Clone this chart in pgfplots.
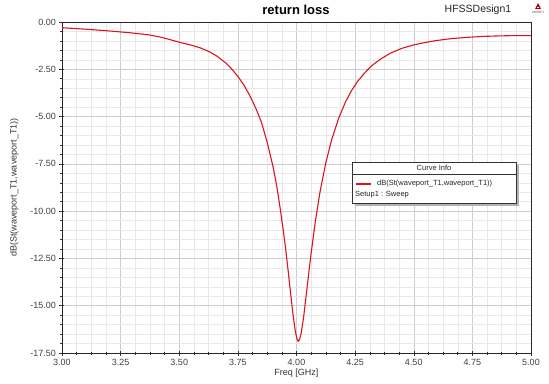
\documentclass[border=0pt]{standalone}
\usepackage{pgfplots}
\pgfplotsset{compat=1.18}
\usepackage{fontspec}
\setmainfont{Liberation Sans}
\definecolor{curvered}{RGB}{220,20,30}
\definecolor{majgrid}{RGB}{205,205,205}
\definecolor{mingrid}{RGB}{232,232,232}
\begin{document}
\begin{tikzpicture}[x=1pt,y=1pt]
\useasboundingbox (-62,-30) rectangle (487,353);
\begin{axis}[
  at={(0,0)}, anchor=south west,
  scale only axis, width=469pt, height=331pt,
  xmin=3, xmax=5, ymin=-17.5, ymax=0,
  xtick={3,3.25,...,5.01}, ytick={-17.5,-15,...,0},
  minor x tick num=3, minor y tick num=4,
  grid=both,
  major grid style={draw=majgrid, line width=0.5pt},
  minor grid style={draw=mingrid, line width=0.4pt},
  tick align=center, tickpos=left,
  major tick length=5pt, minor tick length=3pt,
  tick style={draw=black!80, line width=0.5pt},
  axis line style={draw=black!85, line width=0.8pt},
  /pgf/number format/assume math mode=true,
  /pgf/number format/fixed, /pgf/number format/fixed zerofill, /pgf/number format/precision=2,
  ticklabel style={font=\fontsize{9}{10}\selectfont, text=black!75},
  xticklabel style={yshift=0pt},
  xlabel={Freq [GHz]}, xlabel style={font=\fontsize{9}{10}\selectfont, text=black!80, yshift=3pt},
  ylabel={dB(St(waveport\_T1,waveport\_T1))}, ylabel style={font=\fontsize{9}{10}\selectfont, text=black!80, yshift=5pt},
]
\addplot[curvered, line width=1.1pt, line join=round] coordinates {
(3.00,-0.30) (3.10,-0.38) (3.20,-0.47) (3.30,-0.58) (3.376,-0.69) (3.42,-0.80) (3.46,-0.93)
(3.50,-1.07) (3.55,-1.22) (3.59,-1.37) (3.63,-1.58) (3.66,-1.80) (3.70,-2.18) (3.725,-2.50)
(3.75,-2.88) (3.775,-3.32) (3.80,-3.87) (3.825,-4.52) (3.85,-5.28) (3.875,-6.36) (3.90,-7.65)
(3.915,-8.62) (3.93,-9.82) (3.945,-11.15) (3.955,-12.12) (3.965,-13.22) (3.975,-14.37)
(3.985,-15.45) (3.995,-16.35) (4.002,-16.75) (4.008,-16.89) (4.014,-16.75) (4.020,-16.45)
(4.030,-15.65) (4.045,-14.06) (4.060,-12.46) (4.080,-10.57) (4.100,-9.00) (4.125,-7.44)
(4.150,-6.22) (4.180,-5.08) (4.210,-4.20) (4.235,-3.62) (4.26,-3.15) (4.29,-2.70) (4.32,-2.32)
(4.36,-1.95) (4.40,-1.65) (4.45,-1.39) (4.50,-1.21) (4.53,-1.13) (4.59,-0.99) (4.66,-0.88)
(4.73,-0.81) (4.80,-0.76) (4.85,-0.74) (4.92,-0.72) (5.00,-0.72)
};
\end{axis}
% title and header texts
\node[font=\bfseries\fontsize{13}{15}\selectfont] at (234,343) {return loss};
\node[font=\fontsize{10.5}{12}\selectfont, text=black!85] at (416,343) {HFSSDesign1};
\fill[red!70!black] (473,344) -- (476,350) -- (479,344) -- cycle;
\fill[white] (475,345) rectangle (477,346);
\node[font=\fontsize{3}{3}\selectfont, text=black!70, inner sep=0pt] at (476,341) {ANSOFT};
% curve info box
\fill[black!30] (293,147) rectangle (457,188);
\filldraw[fill=white, draw=black!80, line width=0.5pt] (290,150) rectangle (454,191);
\draw[black!80, line width=0.4pt] (290,179) -- (454,179);
\node[font=\fontsize{7.5}{9}\selectfont, text=black!85] at (372,185) {Curve Info};
\draw[curvered, line width=1.1pt] (294,169) -- (309,169);
\node[font=\fontsize{7.5}{9}\selectfont, text=black!85, anchor=west, inner sep=0pt] at (315,169.5) {dB(St(waveport\_T1,waveport\_T1))};
\node[font=\fontsize{7.5}{9}\selectfont, text=black!85, anchor=west, inner sep=0pt] at (293,158) {Setup1 : Sweep};
\end{tikzpicture}
\end{document}
